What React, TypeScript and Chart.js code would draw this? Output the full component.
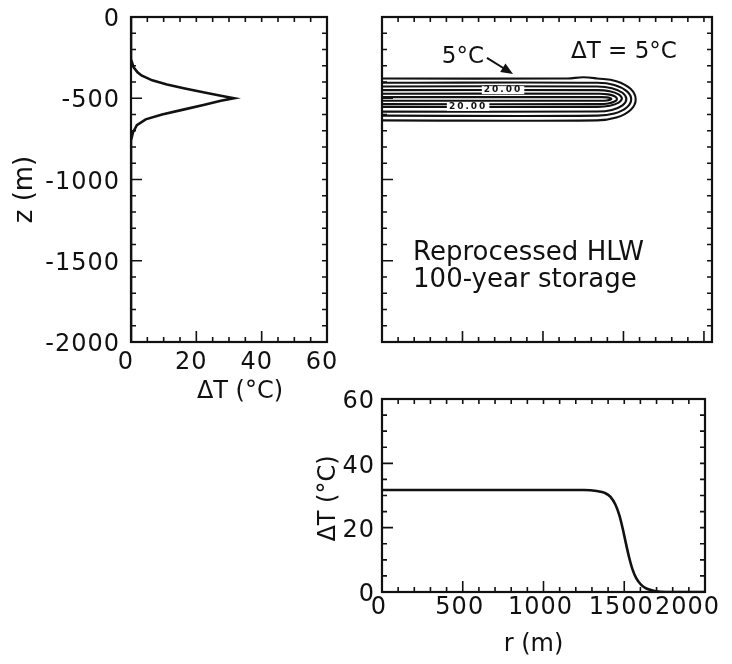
import React, { useEffect, useRef } from 'react';
import { Chart, registerables } from 'chart.js';

Chart.register(...registerables);

const W = 732;
const H = 664;
const INK = '#111111';
const FONT = '"DejaVu Sans", "Liberation Sans", sans-serif';

// ---------------- Data ----------------
// Left panel: vertical temperature-rise profile (ΔT in °C against depth z in m)
const profileZ = [0, -260, -310, -340, -360, -390, -415, -440, -465, -485, -500, -515, -540, -570, -600, -630, -665, -710, -760, -2000];
const profileDT = [0, 0, 0.8, 2, 3.2, 6.5, 11, 16.5, 22.5, 27.5, 31.5, 27.5, 22.5, 16, 9.5, 4.5, 1.8, 0.6, 0, 0];

// Bottom panel: radial profile at repository depth (ΔT in °C against r in m)
const radialR = [0, 1250, 1330, 1380, 1415, 1445, 1470, 1490, 1510, 1530, 1550, 1575, 1605, 1640, 1690, 1760, 2000];
const radialDT = [31.7, 31.7, 31.4, 30.8, 29.6, 27.2, 23.8, 19.8, 15.2, 10.8, 7.2, 4.2, 2.2, 1.0, 0.3, 0, 0];

// Top-right panel: isotherms (r in m, z in m), levels 5..30 °C every 5 °C
const contourLevels = [5, 10, 15, 20, 25, 30];
const contour05 = [[0, -378], [1150, -378], [1250, -371], [1336, -378], [1456, -395], [1544, -442], [1576, -507], [1544, -572], [1456, -619], [1336, -636], [0, -636]];
const contour10 = [[0, -405], [1338, -405], [1443, -418], [1520, -456], [1548, -506], [1520, -557], [1443, -594], [1338, -607], [0, -607]];
const contour15 = [[0, -428], [1338, -428], [1428, -438], [1494, -466], [1518, -505], [1494, -544], [1428, -572], [1338, -582], [0, -582]];
const contour20 = [[0, -450], [1340, -450], [1415, -457], [1470, -476], [1490, -502], [1470, -527], [1415, -546], [1340, -553], [0, -553]];
const contour25 = [[0, -472], [1350, -472], [1405, -476], [1445, -488], [1460, -504], [1445, -520], [1405, -532], [1350, -536], [0, -536]];
const contour30 = [[0, -493], [1365, -493], [1395, -494.5], [1417, -498.5], [1425, -504], [1417, -509.5], [1395, -513.5], [1365, -515], [0, -515]];
const contours = [contour05, contour10, contour15, contour20, contour25, contour30];
const contourLabelText = '20.00';
const contourLabelAt = [[752, -450], [535, -553]];

// Tick labels
const profileDTTicks = [0, 20, 40, 60];
const depthTicks = [0, -500, -1000, -1500, -2000];
const radiusTicks = [0, 500, 1000, 1500, 2000];
const radialDTTicks = [0, 20, 40, 60];

// ---------------- Drawing helpers ----------------
const MINOR = 5;
const MAJOR = 11;

function setSpacing(ctx: any, px: number) {
  try {
    ctx.letterSpacing = px + 'px';
  } catch (e) {
    /* ignore */
  }
}

type Title = { text: string; side: 'left' | 'bottom'; offset: number; shift: number; size: number };
type Deco = {
  xStep: number;
  yStep: number;
  xMajor: number;
  yMajor: number;
  xLabels?: number[];
  yLabels?: number[];
  xLabelDy?: number;
  xLabelDx?: number;
  yLabelGap?: number;
  yLabelDy?: number;
  titles?: Title[];
  notes?: (chart: any) => void;
};

function isMajor(v: number, step: number) {
  const q = v / step;
  return Math.abs(q - Math.round(q)) < 1e-6;
}

function tickValues(scale: any, step: number) {
  const out: number[] = [];
  const start = Math.ceil(scale.min / step - 1e-9);
  const end = Math.floor(scale.max / step + 1e-9);
  for (let k = start; k <= end; k++) out.push(k * step);
  return out;
}

function framePlugin(deco: Deco) {
  return {
    id: 'frame',
    afterDatasetsDraw(chart: any) {
      const ctx = chart.ctx as CanvasRenderingContext2D;
      const { left, top, right, bottom } = chart.chartArea;
      const xs = chart.scales.x;
      const ys = chart.scales.y;
      ctx.save();
      ctx.strokeStyle = INK;
      ctx.fillStyle = INK;
      ctx.lineCap = 'butt';

      // inward tick marks on all four sides
      ctx.lineWidth = 1.6;
      ctx.beginPath();
      tickValues(xs, deco.xStep).forEach((v) => {
        const p = xs.getPixelForValue(v);
        if (p < left + 2 || p > right - 2) return;
        const len = isMajor(v, deco.xMajor) ? MAJOR : MINOR;
        ctx.moveTo(p, bottom);
        ctx.lineTo(p, bottom - len);
        ctx.moveTo(p, top);
        ctx.lineTo(p, top + MINOR);
      });
      tickValues(ys, deco.yStep).forEach((v) => {
        const p = ys.getPixelForValue(v);
        if (p < top + 2 || p > bottom - 2) return;
        const len = isMajor(v, deco.yMajor) ? MAJOR : MINOR;
        ctx.moveTo(left, p);
        ctx.lineTo(left + len, p);
        ctx.moveTo(right, p);
        ctx.lineTo(right - MINOR, p);
      });
      ctx.stroke();

      // frame
      ctx.lineWidth = 2.2;
      ctx.strokeRect(left, top, right - left, bottom - top);

      // tick labels
      ctx.font = '24px ' + FONT;
      setSpacing(ctx, 1);
      ctx.textBaseline = 'middle';
      (deco.xLabels || []).forEach((v) => {
        const txt = String(v);
        const w = ctx.measureText(txt).width;
        let cx = xs.getPixelForValue(v) + (deco.xLabelDx || 0);
        cx = Math.min(cx, W - 12 - w / 2);
        ctx.textAlign = 'center';
        ctx.fillText(txt, cx, bottom + (deco.xLabelDy || 18));
      });
      (deco.yLabels || []).forEach((v) => {
        const txt = String(v);
        ctx.textAlign = 'right';
        ctx.fillText(txt, left - (deco.yLabelGap || 10) + 1, ys.getPixelForValue(v) + (deco.yLabelDy || 0));
      });
      setSpacing(ctx, 0);

      // axis titles
      (deco.titles || []).forEach((t) => {
        ctx.font = t.size + 'px ' + FONT;
        ctx.textAlign = 'center';
        ctx.textBaseline = 'middle';
        if (t.side === 'left') {
          ctx.save();
          ctx.translate(left - t.offset, (top + bottom) / 2 + t.shift);
          ctx.rotate(-Math.PI / 2);
          ctx.fillText(t.text, 0, 0);
          ctx.restore();
        } else {
          ctx.fillText(t.text, (left + right) / 2 + t.shift, bottom + t.offset);
        }
      });

      if (deco.notes) deco.notes(chart);
      ctx.restore();
    },
  };
}

function panelConfig(
  box: { left: number; top: number; right: number; bottom: number },
  datasets: any[],
  x: { min: number; max: number },
  y: { min: number; max: number },
  deco: Deco
): any {
  return {
    type: 'scatter',
    data: { datasets },
    options: {
      responsive: false,
      maintainAspectRatio: false,
      animation: false,
      events: [],
      layout: { padding: { left: box.left, top: box.top, right: W - box.right, bottom: H - box.bottom } },
      plugins: { legend: { display: false }, tooltip: { enabled: false }, title: { display: false } },
      scales: {
        x: { type: 'linear', display: false, min: x.min, max: x.max },
        y: { type: 'linear', display: false, min: y.min, max: y.max },
      },
    },
    plugins: [framePlugin(deco)],
  };
}

function drawArrow(ctx: CanvasRenderingContext2D, x1: number, y1: number, x2: number, y2: number) {
  const a = Math.atan2(y2 - y1, x2 - x1);
  const hl = 12;
  const hw = 5;
  ctx.lineWidth = 2;
  ctx.beginPath();
  ctx.moveTo(x1, y1);
  ctx.lineTo(x2 - hl * 0.8 * Math.cos(a), y2 - hl * 0.8 * Math.sin(a));
  ctx.stroke();
  ctx.beginPath();
  ctx.moveTo(x2, y2);
  ctx.lineTo(x2 - hl * Math.cos(a) + hw * Math.sin(a), y2 - hl * Math.sin(a) - hw * Math.cos(a));
  ctx.lineTo(x2 - hl * Math.cos(a) - hw * Math.sin(a), y2 - hl * Math.sin(a) + hw * Math.cos(a));
  ctx.closePath();
  ctx.fill();
}

function contourNotes(chart: any) {
  const ctx = chart.ctx as CanvasRenderingContext2D;
  const xs = chart.scales.x;
  const ys = chart.scales.y;
  const px = (r: number) => xs.getPixelForValue(r);
  const py = (z: number) => ys.getPixelForValue(z);
  ctx.fillStyle = INK;
  ctx.strokeStyle = INK;

  // in-line contour labels
  ctx.font = 'bold 9px ' + FONT;
  setSpacing(ctx, 2);
  ctx.textAlign = 'center';
  ctx.textBaseline = 'middle';
  contourLabelAt.forEach(([r, z]) => {
    const w = ctx.measureText(contourLabelText).width;
    ctx.fillStyle = '#ffffff';
    ctx.fillRect(px(r) - w / 2 - 2, py(z) - 4, w + 4, 8);
    ctx.fillStyle = INK;
    ctx.fillText(contourLabelText, px(r), py(z));
  });
  setSpacing(ctx, 0);

  // annotations
  ctx.font = '23px ' + FONT;
  ctx.textAlign = 'center';
  ctx.textBaseline = 'middle';
  ctx.fillText(contourLevels[0] + '°C', px(503), py(-246));
  ctx.fillText('ΔT = ' + contourLevels[0] + '°C', px(1503), py(-215));
  drawArrow(ctx, px(652), py(-252), px(814), py(-351));

  ctx.font = '26px ' + FONT;
  ctx.textAlign = 'left';
  ctx.textBaseline = 'alphabetic';
  ctx.fillText('Reprocessed HLW', px(193), py(-1495));
  ctx.fillText('100-year storage', px(193), py(-1662));
}

export default function App() {
  const leftRef = useRef<HTMLCanvasElement>(null);
  const mapRef = useRef<HTMLCanvasElement>(null);
  const radialRef = useRef<HTMLCanvasElement>(null);

  useEffect(() => {
    const line = { showLine: true, borderColor: INK, pointRadius: 0, fill: false };

    const profileChart = new Chart(
      leftRef.current as HTMLCanvasElement,
      panelConfig(
        { left: 131, top: 17, right: 327, bottom: 342 },
        [{ ...line, data: profileZ.map((z, i) => ({ x: profileDT[i], y: z })), borderWidth: 2.6, tension: 0 }],
        { min: 0, max: 60 },
        { min: -2000, max: 0 },
        {
          xStep: 5,
          yStep: 100,
          xMajor: 20,
          yMajor: 500,
          xLabels: profileDTTicks,
          yLabels: depthTicks,
          xLabelDy: 21,
          xLabelDx: -5,
          yLabelGap: 12,
          yLabelDy: 3,
          titles: [
            { text: 'z (m)', side: 'left', offset: 106, shift: 10, size: 26 },
            { text: 'ΔT (°C)', side: 'bottom', offset: 50, shift: 11, size: 24 },
          ],
        }
      )
    );

    const mapChart = new Chart(
      mapRef.current as HTMLCanvasElement,
      panelConfig(
        { left: 382, top: 17, right: 712, bottom: 342 },
        contours.map((c) => ({
          ...line,
          data: c.map(([r, z]) => ({ x: r, y: z })),
          borderWidth: 2.1,
          tension: 0.4,
        })),
        { min: 0, max: 2050 },
        { min: -2000, max: 0 },
        { xStep: 100, yStep: 100, xMajor: 500, yMajor: 500, notes: contourNotes }
      )
    );

    const radialChart = new Chart(
      radialRef.current as HTMLCanvasElement,
      panelConfig(
        { left: 382, top: 399, right: 705, bottom: 592 },
        [
          {
            ...line,
            data: radialR.map((r, i) => ({ x: r, y: radialDT[i] })),
            borderWidth: 2.6,
            cubicInterpolationMode: 'monotone',
          },
        ],
        { min: 0, max: 2000 },
        { min: 0, max: 60 },
        {
          xStep: 100,
          yStep: 5,
          xMajor: 500,
          yMajor: 20,
          xLabels: radiusTicks,
          yLabels: radialDTTicks,
          xLabelDy: 16,
          xLabelDx: -3,
          yLabelGap: 8,
          yLabelDy: 3,
          titles: [
            { text: 'ΔT (°C)', side: 'left', offset: 53, shift: 3, size: 24 },
            { text: 'r (m)', side: 'bottom', offset: 53, shift: -10, size: 24 },
          ],
        }
      )
    );

    return () => {
      profileChart.destroy();
      mapChart.destroy();
      radialChart.destroy();
    };
  }, []);

  const cs: React.CSSProperties = { position: 'absolute', left: 0, top: 0, width: W, height: H, display: 'block' };
  return (
    <div style={{ position: 'fixed', left: 0, top: 0, width: W, height: H, background: '#ffffff', overflow: 'hidden' }}>
      <canvas ref={leftRef} width={W} height={H} style={cs} />
      <canvas ref={mapRef} width={W} height={H} style={cs} />
      <canvas ref={radialRef} width={W} height={H} style={cs} />
    </div>
  );
}
